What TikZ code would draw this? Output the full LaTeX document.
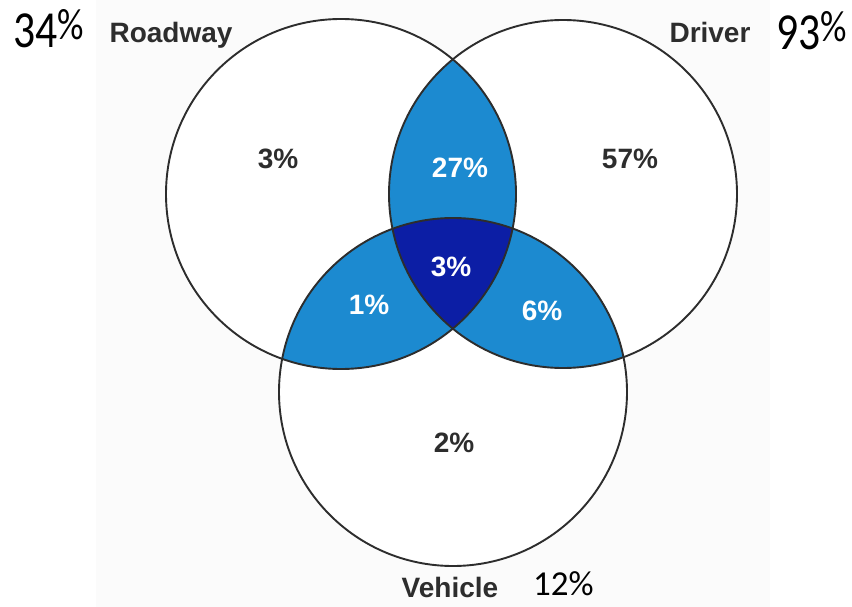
\documentclass[tikz,border=0pt]{standalone}
\usepackage{fontspec}
\setmainfont{Liberation Sans}
\newfontfamily\notefont{Carlito}
\definecolor{pairblue}{RGB}{28,138,208}
\definecolor{coreblue}{RGB}{12,30,165}
\definecolor{ink}{RGB}{45,45,45}
\definecolor{paper}{RGB}{251,251,251}
% percentage totals written beside each set
\newcommand{\bigtotal}[1]{\scalebox{0.84}[1]{\fontsize{52}{52}\selectfont #1\raisebox{8pt}{\fontsize{44}{44}\selectfont\%}}}
\newcommand{\smalltotal}[1]{\fontsize{35}{35}\selectfont #1\%}
\begin{document}
\begin{tikzpicture}[x=1pt,y=-1pt,
  setname/.style={font=\fontsize{28}{28}\selectfont\bfseries, text=ink, anchor=base, inner sep=0pt},
  share/.style={font=\fontsize{28}{28}\selectfont\bfseries, text=ink, anchor=base, inner sep=0pt},
  shareon/.style={share, text=white},
  total/.style={font=\notefont, text=black, anchor=base west, inner sep=0pt},
  ring/.style={draw=ink, line width=1.9pt}]

% canvas
\useasboundingbox (0,0) rectangle (852,607);
\fill[white] (0,0) rectangle (852,607);
\fill[paper] (96,0) rectangle (770,607);

% set centres
\coordinate (R) at (341,194);
\coordinate (D) at (563,194);
\coordinate (V) at (453,392);
\def\rR{175pt}
\def\rD{174pt}
\def\rV{174pt}

% plain interiors
\fill[white] (R) circle[radius=\rR];
\fill[white] (D) circle[radius=\rD];
\fill[white] (V) circle[radius=\rV];

% pairwise overlaps
\begin{scope}
  \clip (R) circle[radius=\rR];
  \fill[pairblue] (D) circle[radius=\rD];
  \fill[pairblue] (V) circle[radius=\rV];
\end{scope}
\begin{scope}
  \clip (D) circle[radius=\rD];
  \fill[pairblue] (V) circle[radius=\rV];
\end{scope}
% triple overlap
\begin{scope}
  \clip (R) circle[radius=\rR];
  \clip (D) circle[radius=\rD];
  \fill[coreblue] (V) circle[radius=\rV];
\end{scope}

% outlines
\draw[ring] (R) circle[radius=\rR];
\draw[ring] (D) circle[radius=\rD];
\draw[ring] (V) circle[radius=\rV];

% set names
\node[setname] (roadway) at (171,43) {Roadway};
\node[setname] (driver) at (710,43) {Driver};
\node[setname] (vehicle) at (450,597) {Vehicle};

% region shares
\node[share] (onlyR) at (278,169) {3\%};
\node[share] (onlyD) at (630,168) {57\%};
\node[share] (onlyV) at (454,452) {2\%};
\node[shareon] (RD) at (460,178) {27\%};
\node[shareon] (RV) at (369,314) {1\%};
\node[shareon] (DV) at (542,320) {6\%};
\node[shareon] (RDV) at (451,276) {3\%};

% totals
\node[total] (totR) at (13,48) {\bigtotal{34}};
\node[total] (totD) at (776,50) {\bigtotal{93}};
\node[total] (totV) at (533,595) {\smalltotal{12}};
\end{tikzpicture}
\end{document}
